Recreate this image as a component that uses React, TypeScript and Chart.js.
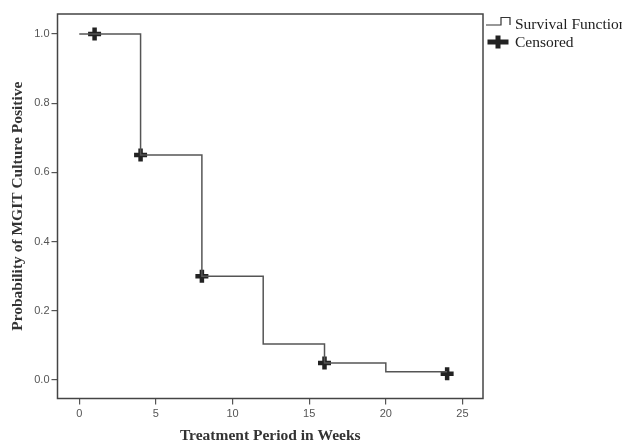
import React, { useEffect, useRef } from "react";
import { Chart, registerables } from "chart.js";

Chart.register(...registerables);

const xTicks = [0, 5, 10, 15, 20, 25];
const yTicks = [0, 0.2, 0.4, 0.6, 0.8, 1.0];
const survivalWeeks = [0, 4, 8, 12, 16, 20, 24];
const survivalProb = [1.0, 0.65, 0.3, 0.104, 0.049, 0.024, 0.024];
const censoredWeeks = [1, 4, 8, 16, 24];
const censoredProb = [1.0, 0.65, 0.3, 0.049, 0.018];
const legendLabels = ["Survival Function", "Censored"];
const xTitle = "Treatment Period in Weeks";
const yTitle = "Probability of MGIT Culture Positive";

const boxPlugin = {
  id: "boxAndLegend",
  afterDraw(chart: any) {
    const { ctx, chartArea: a } = chart;
    ctx.save();
    ctx.strokeStyle = "#444";
    ctx.lineWidth = 1.5;
    ctx.strokeRect(a.left, a.top, a.right - a.left, a.bottom - a.top);

    const lx = a.right + 3;
    ctx.strokeStyle = "#333";
    ctx.lineWidth = 1.2;
    ctx.beginPath();
    ctx.moveTo(lx, 25);
    ctx.lineTo(lx + 15, 25);
    ctx.lineTo(lx + 15, 17.5);
    ctx.lineTo(lx + 24, 17.5);
    ctx.lineTo(lx + 24, 25);
    ctx.stroke();

    ctx.fillStyle = "#222";
    ctx.fillRect(lx + 1.5, 39.5, 21, 5);
    ctx.fillRect(lx + 9.5, 35.5, 5, 13);

    ctx.font = "15.5px 'Liberation Serif'";
    ctx.fillStyle = "#222";
    ctx.textBaseline = "middle";
    ctx.textAlign = "left";
    ctx.fillText(legendLabels[0], lx + 29, 25);
    ctx.fillText(legendLabels[1], lx + 29, 43);
    ctx.restore();
  },
};

export default function App() {
  const ref = useRef<HTMLCanvasElement | null>(null);

  useEffect(() => {
    if (!ref.current) return;
    const tickFont = { family: "'Liberation Sans', Arial, sans-serif", size: 11 };
    const titleFont = {
      family: "'Liberation Serif', 'Times New Roman', serif",
      size: 15.5,
      weight: "bold" as const,
      lineHeight: 1,
    };
    const chart = new Chart(ref.current, {
      type: "line",
      data: {
        datasets: [
          {
            label: legendLabels[0],
            data: survivalWeeks.map((x, i) => ({ x, y: survivalProb[i] })),
            stepped: "before",
            borderColor: "#555",
            borderWidth: 1.5,
            pointRadius: 0,
            fill: false,
          },
          {
            label: legendLabels[1],
            data: censoredWeeks.map((x, i) => ({ x, y: censoredProb[i] })),
            showLine: false,
            pointStyle: "cross",
            pointRadius: 6.5,
            pointBorderWidth: 4.5,
            borderColor: "#222",
            backgroundColor: "#222",
          },
        ],
      },
      options: {
        animation: false,
        responsive: false,
        layout: { padding: { top: 14, right: 139, left: 0, bottom: 0 } },
        plugins: { legend: { display: false }, tooltip: { enabled: false } },
        scales: {
          x: {
            type: "linear",
            min: -1.42,
            max: 26.34,
            afterBuildTicks: (s: any) => {
              s.ticks = xTicks.map((v) => ({ value: v }));
            },
            afterFit: (s: any) => {
              s.height = 45.5;
            },
            grid: { display: true, drawOnChartArea: false, drawTicks: true, tickLength: 6, tickColor: "#555", lineWidth: 1.2 },
            border: { display: false },
            ticks: { color: "#555", font: tickFont, padding: 3, maxRotation: 0, autoSkip: false },
            title: { display: true, text: xTitle, color: "#333", font: titleFont, padding: { top: 0, bottom: 0 } },
          },
          y: {
            type: "linear",
            min: -0.0535,
            max: 1.0578,
            afterBuildTicks: (s: any) => {
              s.ticks = yTicks.map((v) => ({ value: v }));
            },
            afterFit: (s: any) => {
              s.width = 57.5;
            },
            grid: { display: true, drawOnChartArea: false, drawTicks: true, tickLength: 6, tickColor: "#555", lineWidth: 1.2 },
            border: { display: false },
            ticks: {
              color: "#555",
              font: tickFont,
              padding: 2,
              autoSkip: false,
              callback: (v: any) => Number(v).toFixed(1),
            },
            title: { display: true, text: yTitle, color: "#333", font: titleFont, padding: { top: 10.5, bottom: 0 } },
          },
        },
      },
      plugins: [boxPlugin],
    });
    return () => chart.destroy();
  }, []);

  return (
    <div style={{ position: "fixed", left: 0, top: 0, width: 622, height: 444, background: "#fff" }}>
      <canvas ref={ref} width={622} height={444} style={{ display: "block" }} />
    </div>
  );
}
